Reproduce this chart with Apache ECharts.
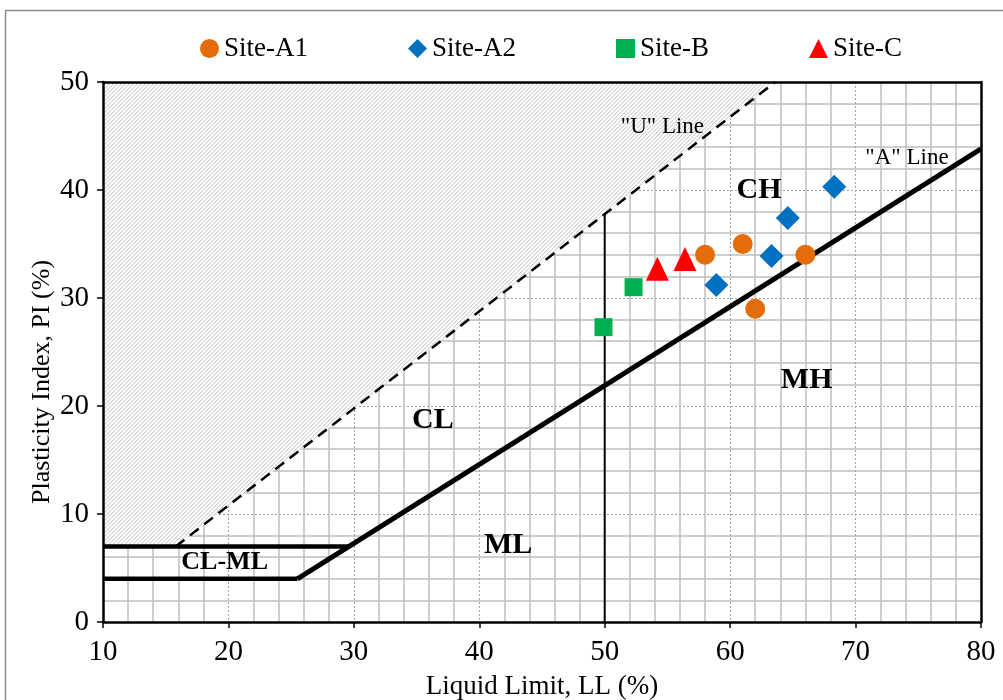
<!DOCTYPE html>
<html>
<head>
<meta charset="utf-8">
<title>Plasticity Chart</title>
<script src="https://cdn.jsdelivr.net/npm/echarts/dist/echarts.min.js"></script>
<style>
  html, body { margin: 0; padding: 0; background: #fff; }
  #chart { width: 1003px; height: 700px; }
</style>
</head>
<body>
<div id="chart"></div>
<script>
// ---- Axis ranges ----
const LL_MIN = 10, LL_MAX = 80, LL_STEP = 10;
const PI_MIN = 0, PI_MAX = 50, PI_STEP = 10;

// ---- Sample points: [Liquid Limit, Plasticity Index] ----
const siteA1 = [[58, 34], [61, 35], [62, 29], [66, 34]];
const siteA2 = [[58.9, 31.2], [63.3, 33.9], [64.6, 37.4], [68.3, 40.3]];
const siteB  = [[49.9, 27.3], [52.3, 31.0]];
const siteC  = [[54.2, 32.7], [56.4, 33.6]];

// ---- Casagrande chart boundaries ----
const aLine      = [[25.5, 4], [80, 43.8]];      // PI = 0.73 (LL - 20)
const uLine      = [[15.8, 7], [63.6, 50]];      // PI = 0.9 (LL - 8)
const clmlLower  = [[10, 4], [25.5, 4]];
const clmlUpper  = [[10, 7], [29.6, 7]];
const llDivider  = [[50, 0], [50, 37.8]];
const hatchZone  = [[10, 7], [15.8, 7], [63.6, 50], [10, 50]];

// ---- Zone and line labels ----
const zoneNames = ['CL', 'ML', 'MH', 'CH'];
const zonePos   = [[36.3, 18.7], [42.3, 7.1], [66.1, 22.4], [62.3, 40.0]];
const smallZoneNames = ['CL-ML'];
const smallZonePos   = [[19.7, 5.5]];
const lineNames = ['"U" Line', '"A" Line'];
const linePos   = [[54.6, 45.8], [74.1, 43.0]];

const seriesNames = ['Site-A1', 'Site-A2', 'Site-B', 'Site-C'];

const FONT = '"Liberation Serif", "Times New Roman", serif';

// Diagonal hatch tile for the zone above the "U" line
function hatchTile() {
  const c = document.createElement('canvas');
  c.width = 4; c.height = 4;
  const ctx = c.getContext('2d');
  ctx.fillStyle = '#ffffff';
  ctx.fillRect(0, 0, 4, 4);
  for (let x = 0; x < 4; x++) {
    for (let y = 0; y < 4; y++) {
      const k = (x + y) % 4;
      if (k === 0) { ctx.fillStyle = '#d0d0d0'; ctx.fillRect(x, y, 1, 1); }
      else if (k === 1) { ctx.fillStyle = '#ececec'; ctx.fillRect(x, y, 1, 1); }
    }
  }
  return c;
}
const tile = hatchTile();

function textSeries(names, pos, font) {
  return {
    type: 'custom',
    xAxisIndex: 0, yAxisIndex: 0,
    silent: true, z: 6,
    encode: { x: 0, y: 1 },
    data: pos.map((p, i) => [p[0], p[1], i]),
    renderItem: (params, api) => {
      const pt = api.coord([api.value(0), api.value(1)]);
      return {
        type: 'text',
        x: pt[0], y: pt[1],
        style: {
          text: names[params.dataIndex],
          font: font,
          fill: '#000',
          align: 'center',
          verticalAlign: 'middle'
        }
      };
    }
  };
}

function boundary(data, width, type) {
  return {
    type: 'line',
    xAxisIndex: 0, yAxisIndex: 0,
    data: data,
    symbol: 'none',
    silent: true,
    z: 3,
    lineStyle: { color: '#000', width: width, type: type || 'solid', cap: 'butt' },
    animation: false
  };
}

const tickText = { fontFamily: FONT, fontSize: 29, color: '#000' };
const titleText = { fontFamily: FONT, fontSize: 27, color: '#000' };
const frameLine = { show: true, onZero: false, lineStyle: { color: '#000', width: 2.5 } };

const option = {
  backgroundColor: '#fff',
  animation: false,
  grid: {
    left: 103, right: 22, top: 82, bottom: 78,
    containLabel: false, outerBoundsMode: 'none'
  },
  legend: {
    data: seriesNames,
    left: 195, top: 30,
    itemGap: 100,
    itemWidth: 19, itemHeight: 19,
    textStyle: { fontFamily: FONT, fontSize: 27, color: '#000' }
  },
  graphic: [
    {
      type: 'rect', silent: true, z: -10,
      shape: { x: 5.5, y: 10.5, width: 1100, height: 800 },
      style: { fill: 'none', stroke: '#8c8c8c', lineWidth: 1.5 }
    },
    {
      type: 'text', x: 42, y: 382, rotation: Math.PI / 2, silent: true,
      style: {
        text: 'Plasticity Index, PI (%)',
        font: '26px ' + FONT, fill: '#000',
        align: 'center', verticalAlign: 'middle'
      }
    }
  ],
  xAxis: [
    { // grid lines
      type: 'value', min: LL_MIN, max: LL_MAX, interval: LL_STEP, z: 0,
      axisLine: { show: false }, axisTick: { show: false }, axisLabel: { show: false },
      splitLine: { show: true, lineStyle: { color: '#a0a0a0', width: 1, type: [2, 2] } },
      minorTick: { show: false, splitNumber: 5 },
      minorSplitLine: { show: true, lineStyle: { color: '#bfbfbf', width: 1.5 } }
    },
    { // bottom axis with ticks and labels
      type: 'value', position: 'bottom', min: LL_MIN, max: LL_MAX, interval: LL_STEP, z: 8,
      axisLine: frameLine,
      axisTick: { show: true, inside: false, length: 6, lineStyle: { color: '#000', width: 1.5 } },
      axisLabel: Object.assign({ margin: 16 }, tickText),
      splitLine: { show: false },
      name: 'Liquid Limit, LL (%)', nameLocation: 'middle', nameGap: 51,
      nameTextStyle: titleText
    },
    { // top frame edge
      type: 'value', position: 'top', min: LL_MIN, max: LL_MAX, interval: LL_STEP, z: 8,
      axisLine: frameLine, axisTick: { show: false }, axisLabel: { show: false },
      splitLine: { show: false }
    }
  ],
  yAxis: [
    {
      type: 'value', min: PI_MIN, max: PI_MAX, interval: PI_STEP, z: 0,
      axisLine: { show: false }, axisTick: { show: false }, axisLabel: { show: false },
      splitLine: { show: true, lineStyle: { color: '#a0a0a0', width: 1, type: [2, 2] } },
      minorTick: { show: false, splitNumber: 5 },
      minorSplitLine: { show: true, lineStyle: { color: '#bfbfbf', width: 1.5 } }
    },
    {
      type: 'value', position: 'left', min: PI_MIN, max: PI_MAX, interval: PI_STEP, z: 8,
      axisLine: frameLine,
      axisTick: { show: true, inside: false, length: 6, lineStyle: { color: '#000', width: 1.5 } },
      axisLabel: Object.assign({ margin: 14 }, tickText),
      splitLine: { show: false }
    },
    {
      type: 'value', position: 'right', min: PI_MIN, max: PI_MAX, interval: PI_STEP, z: 8,
      axisLine: frameLine, axisTick: { show: false }, axisLabel: { show: false },
      splitLine: { show: false }
    }
  ],
  series: [
    { // hatched zone above the "U" line
      type: 'custom',
      xAxisIndex: 0, yAxisIndex: 0,
      silent: true, z: 1,
      encode: { x: 0, y: 1 },
      data: [hatchZone[0]],
      renderItem: (params, api) => ({
        type: 'polygon',
        shape: { points: hatchZone.map(p => api.coord(p)) },
        style: { fill: { image: tile, repeat: 'repeat' }, stroke: null }
      })
    },
    boundary(aLine, 5),
    boundary(clmlLower, 4.5),
    boundary(clmlUpper, 4.5),
    boundary(uLine, 2.5, [11, 7]),
    boundary(llDivider, 2),
    textSeries(zoneNames, zonePos, 'bold 30px ' + FONT),
    textSeries(smallZoneNames, smallZonePos, 'bold 26px ' + FONT),
    textSeries(lineNames, linePos, '23px ' + FONT),
    {
      name: 'Site-A1', type: 'scatter', xAxisIndex: 0, yAxisIndex: 0, z: 10,
      data: siteA1, symbol: 'circle', symbolSize: 20,
      itemStyle: { color: '#E46C0A', opacity: 1 }
    },
    {
      name: 'Site-A2', type: 'scatter', xAxisIndex: 0, yAxisIndex: 0, z: 10,
      data: siteA2, symbol: 'diamond', symbolSize: 24,
      itemStyle: { color: '#0070C0', opacity: 1 }
    },
    {
      name: 'Site-B', type: 'scatter', xAxisIndex: 0, yAxisIndex: 0, z: 10,
      data: siteB, symbol: 'rect', symbolSize: 18,
      itemStyle: { color: '#00B050', opacity: 1 }
    },
    {
      name: 'Site-C', type: 'scatter', xAxisIndex: 0, yAxisIndex: 0, z: 10,
      data: siteC, symbol: 'triangle', symbolSize: [23, 24],
      itemStyle: { color: '#FF0000', opacity: 1 }
    }
  ]
};

const chart = echarts.init(document.getElementById('chart'), null, { renderer: 'canvas' });
chart.setOption(option);
</script>
</body>
</html>
